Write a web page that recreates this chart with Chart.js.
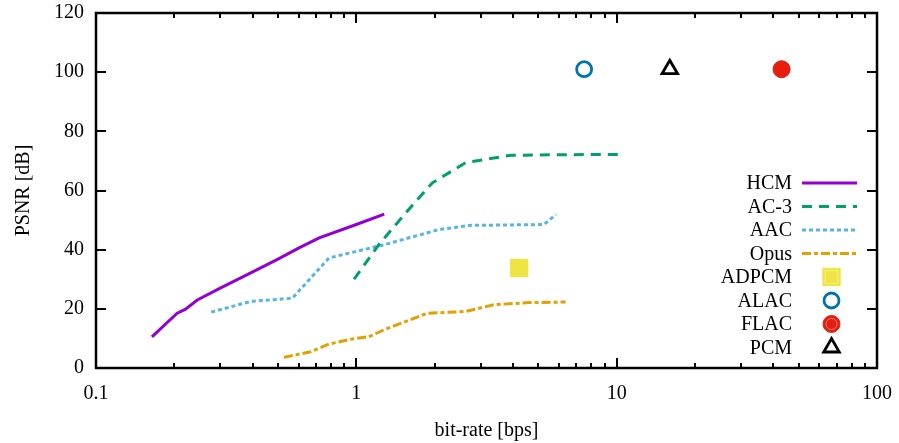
<!DOCTYPE html>
<html>
<head>
<meta charset="utf-8">
<script src="https://cdn.jsdelivr.net/npm/chart.js@4/dist/chart.umd.min.js"></script>
<style>
  html, body { margin: 0; padding: 0; background: #fff; }
  #wrap { width: 899px; height: 443px; }
</style>
</head>
<body>
<div id="wrap"><canvas id="psnrChart" width="899" height="443"></canvas></div>
<script>
// bit-rate [bps] vs PSNR [dB]
const hcmRate = [0.164, 0.205, 0.22, 0.245, 0.3, 0.4, 0.5, 0.6, 0.72, 1.0, 1.28];
const hcmPsnr = [10.5, 18.5, 19.8, 23, 27, 32.5, 36.8, 40.5, 44, 48.5, 52];

const ac3Rate = [0.98, 1.22, 1.59, 1.96, 2.63, 3.92, 6, 10.7];
const ac3Psnr = [30, 41.7, 53.6, 62.6, 69.4, 71.9, 72.1, 72.2];

const aacRate = [0.277, 0.393, 0.568, 0.785, 1.27, 2.08, 2.71, 5.26, 5.84];
const aacPsnr = [18.9, 22.5, 23.6, 37.2, 41.6, 46.8, 48.2, 48.5, 51.9];

const opusRate = [0.527, 0.668, 0.785, 0.965, 1.12, 1.277, 1.87, 2.63, 3.38, 4.61, 6.37];
const opusPsnr = [3.6, 5.5, 8.1, 9.8, 10.6, 12.9, 18.5, 19.1, 21.4, 22.1, 22.3];

const adpcmRate = [4.22], adpcmPsnr = [33.8];
const alacRate = [7.5], alacPsnr = [101];
const flacRate = [43], flacPsnr = [101];
const pcmRate = [16], pcmPsnr = [101];

const xTickLabels = [0.1, 1, 10, 100];
const yTickLabels = [0, 20, 40, 60, 80, 100, 120];

const FONT = '"Liberation Serif", "DejaVu Serif", serif';

function pts(xs, ys) {
  return xs.map((x, i) => ({ x: x, y: ys[i] }));
}

function lineSet(label, xs, ys, color, dash) {
  return {
    label: label, data: pts(xs, ys), borderColor: color, backgroundColor: color,
    borderWidth: 3, borderDash: dash, pointRadius: 0, showLine: true,
    fill: false, tension: 0, legendRow: true
  };
}

function pointSet(label, xs, ys, style, radius, fillColor, edgeColor, edgeWidth) {
  return {
    label: label, data: pts(xs, ys), showLine: false,
    pointStyle: style, pointRadius: radius, pointBackgroundColor: fillColor,
    pointBorderColor: edgeColor, pointBorderWidth: edgeWidth, legendRow: true
  };
}

// faint inner outline drawn on top of a filled marker
function innerSet(xs, ys, style, radius) {
  return Object.assign(pointSet('', xs, ys, style, radius, 'rgba(255,255,255,0)', 'rgba(255,255,255,0.5)', 0.8), { legendRow: false });
}

const datasets = [
  lineSet('HCM', hcmRate, hcmPsnr, '#9400d3', []),
  lineSet('AC-3', ac3Rate, ac3Psnr, '#009e73', [10, 7]),
  lineSet('AAC', aacRate, aacPsnr, '#56b4e9', [4, 3]),
  lineSet('Opus', opusRate, opusPsnr, '#e69f00', [9, 3, 4, 3]),
  pointSet('ADPCM', adpcmRate, adpcmPsnr, 'rect', 13, '#f0e442', '#f0e442', 0),
  pointSet('ALAC', alacRate, alacPsnr, 'circle', 7.5, 'rgba(255,255,255,0)', '#0072b2', 2.8),
  pointSet('FLAC', flacRate, flacPsnr, 'circle', 8.5, '#e51e10', '#e51e10', 1),
  pointSet('PCM', pcmRate, pcmPsnr, 'triangle', 9, 'rgba(255,255,255,0)', '#000000', 2.8),
  innerSet(adpcmRate, adpcmPsnr, 'rect', 9),
  innerSet(flacRate, flacPsnr, 'circle', 5.5)
];

// border box with inward ticks, like gnuplot
const frame = {
  id: 'frame',
  afterDatasetsDraw(chart) {
    const ctx = chart.ctx, a = chart.chartArea;
    const xs = chart.scales.x, ys = chart.scales.y;
    ctx.save();
    ctx.strokeStyle = '#000';
    ctx.lineWidth = 2;
    ctx.setLineDash([]);
    ctx.beginPath();
    for (let d = 0.1; d < 100; d *= 10) {
      for (let m = 1; m <= 9; m++) {
        const v = d * m;
        const px = Math.round(xs.getPixelForValue(v));
        const len = m === 1 ? 10 : 5;
        ctx.moveTo(px, a.bottom); ctx.lineTo(px, a.bottom - len);
        ctx.moveTo(px, a.top); ctx.lineTo(px, a.top + len);
      }
    }
    yTickLabels.forEach(v => {
      const py = Math.round(ys.getPixelForValue(v));
      ctx.moveTo(a.left, py); ctx.lineTo(a.left + 10, py);
      ctx.moveTo(a.right, py); ctx.lineTo(a.right - 10, py);
    });
    ctx.stroke();
    ctx.lineWidth = 2.5;
    ctx.strokeRect(a.left, a.top, a.right - a.left, a.bottom - a.top);
    ctx.restore();
  }
};

// key in the lower right, text right aligned, sample on its right
const key = {
  id: 'key',
  afterDraw(chart) {
    const ctx = chart.ctx;
    const textRight = 792, sampleL = 802, sampleR = 857, top = 183, step = 23.5;
    const inner = { ADPCM: chart.data.datasets[8], FLAC: chart.data.datasets[9] };
    ctx.save();
    ctx.font = '20px ' + FONT;
    ctx.textAlign = 'right';
    ctx.textBaseline = 'middle';
    let row = 0;
    chart.data.datasets.forEach(ds => {
      if (!ds.legendRow) return;
      const y = top + row * step;
      ctx.fillStyle = '#000';
      ctx.fillText(ds.label, textRight, y + 1);
      if (ds.showLine) {
        ctx.strokeStyle = ds.borderColor;
        ctx.lineWidth = ds.borderWidth;
        ctx.setLineDash(ds.borderDash);
        ctx.beginPath();
        ctx.moveTo(sampleL, y); ctx.lineTo(sampleR, y);
        ctx.stroke();
      } else {
        const cx = (sampleL + sampleR) / 2 + 2;
        [ds, inner[ds.label]].forEach(p => {
          if (!p) return;
          ctx.setLineDash([]);
          ctx.fillStyle = p.pointBackgroundColor;
          ctx.strokeStyle = p.pointBorderColor;
          ctx.lineWidth = p.pointBorderWidth;
          Chart.helpers.drawPoint(ctx, { pointStyle: p.pointStyle, radius: p.pointRadius, rotation: 0, borderWidth: p.pointBorderWidth }, cx, y);
        });
      }
      row++;
    });
    ctx.restore();
  }
};

Chart.defaults.font.family = FONT;
Chart.defaults.color = '#000';

new Chart(document.getElementById('psnrChart'), {
  type: 'scatter',
  data: { datasets: datasets },
  options: {
    responsive: false,
    animation: false,
    layout: { padding: { top: 13, right: 22, left: 0, bottom: 0 } },
    plugins: { legend: { display: false }, tooltip: { enabled: false } },
    scales: {
      x: {
        type: 'logarithmic', min: 0.1, max: 100,
        grid: { display: false, drawTicks: false },
        border: { display: false },
        afterBuildTicks: s => { s.ticks = xTickLabels.map(v => ({ value: v })); },
        afterFit: s => { s.height = 75; s.paddingLeft = 0; s.paddingRight = 0; },
        ticks: {
          autoSkip: false, maxRotation: 0, padding: 14,
          font: { size: 20 },
          callback: v => String(v)
        },
        title: { display: true, text: 'bit-rate [bps]', font: { size: 20 }, padding: { top: 0, bottom: 0 } }
      },
      y: {
        min: 0, max: 120,
        grid: { display: false, drawTicks: false },
        border: { display: false },
        afterBuildTicks: s => { s.ticks = yTickLabels.map(v => ({ value: v })); },
        afterFit: s => { s.width = 96; s.paddingTop = 0; s.paddingBottom = 0; },
        ticks: { padding: 12, font: { size: 20 } },
        title: { display: true, text: 'PSNR [dB]', font: { size: 20 }, padding: { top: 12, bottom: 0 } }
      }
    }
  },
  plugins: [frame, key]
});
</script>
</body>
</html>
